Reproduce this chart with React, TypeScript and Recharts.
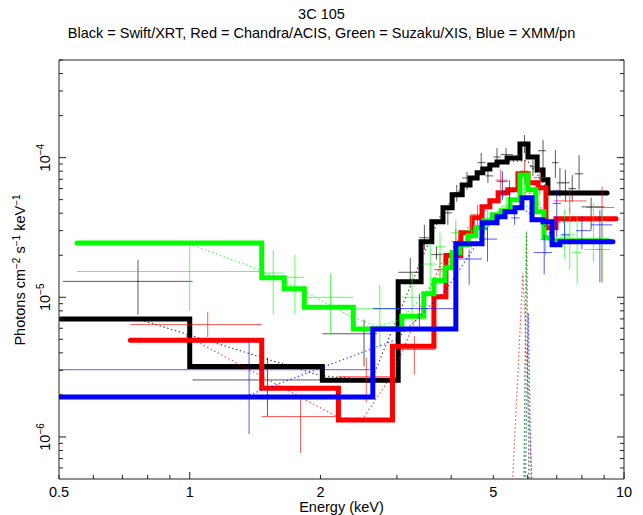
import React from "react";
import { ComposedChart, Line, Scatter, ErrorBar, XAxis, YAxis } from "recharts";

const FONT = '"Liberation Sans", Arial, Helvetica, sans-serif';

const X_TICKS = [0.5, 0.6, 0.7, 0.8, 0.9, 1, 2, 3, 4, 5, 6, 7, 8, 9, 10];
const X_LABELED = [0.5, 1, 2, 5, 10];
const Y_TICKS = [
  6e-7, 7e-7, 8e-7, 9e-7, 1e-6, 2e-6, 3e-6, 4e-6, 5e-6, 6e-6, 7e-6, 8e-6, 9e-6,
  1e-5, 2e-5, 3e-5, 4e-5, 5e-5, 6e-5, 7e-5, 8e-5, 9e-5, 1e-4, 2e-4, 3e-4, 4e-4, 5e-4,
];

// folded model, step edges (keV) and values
const BLACK_MODEL_E = [0.505, 1.0, 2.02, 3.02, 3.41, 3.61, 3.83, 4.02, 4.24, 4.42, 4.59, 4.73, 4.91, 5.1, 5.38, 5.76, 6.01, 6.31, 6.51, 6.68, 9.14];
const BLACK_MODEL_F = [7.0e-6, 3.2e-6, 2.55e-6, 1.29e-5, 2.5e-5, 3.47e-5, 4.38e-5, 5.42e-5, 6.38e-5, 7.16e-5, 7.78e-5, 8.3e-5, 8.87e-5, 9.31e-5, 9.95e-5, 1.25e-4, 1.01e-4, 8.17e-5, 6.93e-5, 5.59e-5, 5.59e-5];
const RED_MODEL_E = [0.73, 1.465, 2.2, 2.93, 3.65, 3.89, 4.21, 4.47, 4.71, 4.91, 5.13, 5.4, 5.7, 6.01, 6.34, 6.61, 6.97, 9.59];
const RED_MODEL_F = [4.93e-6, 2.23e-6, 1.32e-6, 4.47e-6, 1.01e-5, 1.99e-5, 2.9e-5, 3.71e-5, 4.45e-5, 4.91e-5, 5.6e-5, 5.88e-5, 7.65e-5, 6.6e-5, 6.08e-5, 3.15e-5, 3.65e-5, 3.65e-5];
const GREEN_MODEL_E = [0.55, 1.465, 1.651, 1.836, 2.38, 3.08, 3.46, 3.65, 3.87, 4.02, 4.19, 4.37, 4.56, 4.76, 4.97, 5.21, 5.46, 5.76, 6.01, 6.27, 6.54, 6.83, 9.19];
const GREEN_MODEL_F = [2.45e-5, 1.38e-5, 1.15e-5, 8.49e-6, 5.94e-6, 7.31e-6, 1.06e-5, 1.32e-5, 1.63e-5, 2.08e-5, 2.38e-5, 2.76e-5, 3.15e-5, 3.53e-5, 3.9e-5, 4.16e-5, 4.99e-5, 7.52e-5, 5.88e-5, 4.09e-5, 2.67e-5, 2.54e-5, 2.54e-5];
const BLUE_MODEL_E = [0.5, 2.64, 4.1, 4.71, 5.1, 5.32, 5.61, 5.82, 6.14, 6.51, 6.83, 7.12, 9.43];
const BLUE_MODEL_F = [1.93e-6, 5.94e-6, 2.42e-5, 3.42e-5, 3.77e-5, 4.09e-5, 4.37e-5, 5.16e-5, 3.59e-5, 3.47e-5, 2.38e-5, 2.5e-5, 2.5e-5];

// continuum component (dotted)
const BLACK_CONT_E = [0.77, 2.0, 2.62, 3.4, 3.8, 4.2, 4.7, 5.3, 6.0, 6.7, 9.1];
const BLACK_CONT_F = [6.9e-6, 2.75e-6, 2.55e-6, 1.8e-5, 4.0e-5, 5.9e-5, 7.9e-5, 9.4e-5, 9.5e-5, 5.8e-5, 5.6e-5];
const RED_CONT_E = [0.98, 2.2, 2.5, 2.95, 3.4, 3.8, 4.3, 5.0, 5.5, 6.2, 6.7, 9.5];
const RED_CONT_F = [5.3e-6, 1.38e-6, 1.34e-6, 2.9e-6, 8.5e-6, 1.75e-5, 3.0e-5, 4.8e-5, 5.8e-5, 5.5e-5, 3.4e-5, 3.65e-5];
const GREEN_CONT_E = [1.0, 1.465, 1.84, 2.38, 2.7, 3.08, 3.46, 3.9, 4.4, 4.9, 5.4, 6.0, 6.6, 7.0, 9.2];
const GREEN_CONT_F = [2.4e-5, 1.55e-5, 1.1e-5, 7.15e-6, 6.2e-6, 7.0e-6, 1.05e-5, 1.7e-5, 2.8e-5, 3.6e-5, 4.4e-5, 4.5e-5, 3.0e-5, 2.55e-5, 2.55e-5];
const BLUE_CONT_E = [1.37, 3.0, 3.9, 4.4, 4.85, 5.3, 5.8, 6.5, 7.0, 9.4];
const BLUE_CONT_F = [2.0e-6, 5.0e-6, 1.14e-5, 2.0e-5, 3.2e-5, 3.9e-5, 4.4e-5, 3.4e-5, 2.45e-5, 2.5e-5];

// iron line component (dotted)
const BLACK_LINE_E = [5.86, 5.96, 6.07];
const BLACK_LINE_F = [1e-7, 2.9e-5, 1e-7];
const RED_LINE_E = [5.4, 5.85, 6.28];
const RED_LINE_F = [1e-7, 1.5e-5, 1e-7];
const GREEN_LINE_E = [5.85, 5.97, 6.08];
const GREEN_LINE_F = [1e-7, 3.0e-5, 1e-7];
const BLUE_LINE_E = [5.88, 6.02, 6.17];
const BLUE_LINE_F = [1e-7, 7.7e-6, 1e-7];

// data: [E, E low, E high, flux, flux low, flux high]
const BLACK_DATA = [
  [0.76, 0.511, 1.015, 1.3e-5, 7.52e-6, 1.86e-5],
  [1.51, 1.015, 2.0, 2.56e-6, 1.41e-6, 3.69e-6],
  [2.52, 2.02, 2.7, 5.48e-6, 3.2e-6, 6.93e-6],
  [3.22, 3.02, 3.38, 1.51e-5, 1.23e-5, 1.92e-5],
  [3.47, 3.38, 3.55, 2.67e-5, 2.19e-5, 3.3e-5],
  [3.7, 3.6, 3.82, 2.02e-5, 1.86e-5, 2.3e-5],
  [3.93, 3.82, 4.02, 4.02e-5, 3.3e-5, 4.45e-5],
  [4.12, 4.02, 4.24, 5.6e-5, 4.83e-5, 6.38e-5],
  [4.35, 4.24, 4.47, 7.16e-5, 5.88e-5, 7.9e-5],
  [4.69, 4.6, 4.8, 9.2e-5, 8.17e-5, 1.08e-4],
  [4.86, 4.8, 5.0, 7.4e-5, 6.6e-5, 8.44e-5],
  [5.1, 5.0, 5.2, 1.01e-4, 8.87e-5, 1.17e-4],
  [5.35, 5.2, 5.55, 1.05e-4, 9.0e-5, 1.17e-4],
  [5.9, 5.76, 6.1, 1.23e-4, 1.08e-4, 1.45e-4],
  [6.17, 6.07, 6.27, 8.6e-5, 7.4e-5, 9.6e-5],
  [6.51, 6.34, 6.61, 1.12e-4, 8.17e-5, 1.34e-4],
  [6.95, 6.83, 7.06, 9.2e-5, 7.16e-5, 1.13e-4],
  [7.12, 7.0, 7.25, 6.6e-5, 5.25e-5, 8.44e-5],
  [7.33, 7.2, 7.5, 6.6e-5, 4.83e-5, 8.17e-5],
  [7.6, 7.45, 7.75, 6.0e-5, 4.83e-5, 7.5e-5],
  [7.88, 7.7, 8.05, 7.65e-5, 5.88e-5, 1.04e-4],
  [8.4, 7.98, 9.0, 4.44e-5, 3.04e-5, 5.15e-5],
];
const RED_DATA = [
  [1.1, 0.73, 1.465, 6.38e-6, 5.21e-6, 7.87e-6],
  [1.8, 1.465, 2.19, 1.4e-6, 7.7e-7, 2.02e-6],
  [2.55, 2.2, 2.9, 2.7e-6, 1.77e-6, 3.71e-6],
  [3.29, 3.0, 3.67, 4.23e-6, 2.8e-6, 5.28e-6],
  [3.77, 3.65, 3.9, 1.58e-5, 1.23e-5, 2.08e-5],
  [4.1, 4.0, 4.2, 2.5e-5, 2.0e-5, 3.1e-5],
  [4.6, 4.45, 4.75, 3.9e-5, 3.2e-5, 4.6e-5],
  [5.2, 5.06, 5.4, 6.9e-5, 5.9e-5, 8.2e-5],
  [5.9, 5.76, 6.0, 8.0e-5, 6.4e-5, 9.6e-5],
  [6.4, 6.2, 6.65, 7.2e-5, 5.4e-5, 8.4e-5],
  [7.5, 6.9, 8.2, 4.9e-5, 4.0e-5, 5.9e-5],
  [8.9, 8.2, 9.5, 4.4e-5, 1.28e-5, 6.2e-5],
];
const GREEN_DATA = [
  [1.0, 0.55, 1.465, 1.53e-5, 7.99e-6, 2.31e-5],
  [1.557, 1.465, 1.651, 1.49e-5, 7.55e-6, 2.19e-5],
  [1.747, 1.651, 1.836, 1.39e-5, 7.55e-6, 2.02e-5],
  [2.11, 1.85, 2.38, 1.0e-5, 5.42e-6, 1.48e-5],
  [2.74, 2.4, 3.05, 8.26e-6, 4.35e-6, 1.23e-5],
  [3.25, 3.08, 3.4, 1.0e-5, 6.5e-6, 1.5e-5],
  [3.58, 3.44, 3.7, 1.73e-5, 1.08e-5, 2.46e-5],
  [3.77, 3.68, 3.88, 2.3e-5, 1.7e-5, 2.9e-5],
  [4.1, 4.0, 4.2, 2.9e-5, 2.4e-5, 3.6e-5],
  [4.45, 4.3, 4.55, 3.0e-5, 2.2e-5, 4.0e-5],
  [4.85, 4.7, 5.0, 3.5e-5, 2.6e-5, 4.4e-5],
  [5.35, 5.2, 5.5, 4.5e-5, 3.6e-5, 5.4e-5],
  [5.9, 5.8, 6.0, 6.5e-5, 5.4e-5, 7.8e-5],
  [6.6, 6.4, 6.8, 2.6e-5, 2.0e-5, 3.3e-5],
  [7.3, 7.1, 7.5, 2.7e-5, 1.9e-5, 4.3e-5],
  [7.5, 7.2, 7.7, 2.8e-5, 1.58e-5, 4.3e-5],
  [7.8, 7.6, 8.0, 2.1e-5, 1.23e-5, 3.8e-5],
  [8.5, 8.1, 8.9, 2.2e-5, 1.8e-5, 4.7e-5],
  [8.9, 8.6, 9.3, 2.2e-5, 1.28e-5, 4.2e-5],
];
const BLUE_DATA = [
  [1.37, 0.5, 2.6, 3.03e-6, 1.05e-6, 4.99e-6],
  [3.38, 2.64, 4.1, 8.3e-6, 5.73e-6, 1.06e-5],
  [4.4, 4.15, 4.71, 1.88e-5, 1.23e-5, 2.19e-5],
  [4.85, 4.71, 5.1, 2.61e-5, 1.8e-5, 3.2e-5],
  [5.25, 5.1, 5.4, 6.74e-5, 4.99e-5, 8.0e-5],
  [5.45, 5.3, 5.6, 5.7e-5, 4.2e-5, 6.9e-5],
  [5.6, 5.5, 5.75, 3.7e-5, 3.3e-5, 4.4e-5],
  [6.55, 6.2, 6.83, 2.09e-5, 1.46e-5, 2.8e-5],
  [7.0, 6.85, 7.15, 4.7e-5, 2.7e-5, 5.9e-5],
  [7.3, 7.15, 7.5, 2.8e-5, 2.4e-5, 3.6e-5],
  [8.0, 7.75, 8.4, 3.0e-5, 2.2e-5, 3.8e-5],
  [8.8, 8.4, 9.4, 3.3e-5, 1.28e-5, 4.2e-5],
];

const pts = (e: number[], f: number[]) => e.map((x, i) => ({ x, y: f[i] }));
const crosses = (rows: number[][]) =>
  rows.map(([x, xl, xh, y, yl, yh]) => ({ x, y, ex: [x - xl, xh - x], ey: [y - yl, yh - y] }));

const GROUPS = [
  { key: "black", color: "#000000", data: BLACK_DATA, mE: BLACK_MODEL_E, mF: BLACK_MODEL_F, cE: BLACK_CONT_E, cF: BLACK_CONT_F, lE: BLACK_LINE_E, lF: BLACK_LINE_F },
  { key: "red", color: "#ff0000", data: RED_DATA, mE: RED_MODEL_E, mF: RED_MODEL_F, cE: RED_CONT_E, cF: RED_CONT_F, lE: RED_LINE_E, lF: RED_LINE_F },
  { key: "green", color: "#00ff00", data: GREEN_DATA, mE: GREEN_MODEL_E, mF: GREEN_MODEL_F, cE: GREEN_CONT_E, cF: GREEN_CONT_F, lE: GREEN_LINE_E, lF: GREEN_LINE_F },
  { key: "blue", color: "#0000ff", data: BLUE_DATA, mE: BLUE_MODEL_E, mF: BLUE_MODEL_F, cE: BLUE_CONT_E, cF: BLUE_CONT_F, lE: BLUE_LINE_E, lF: BLUE_LINE_F },
];

const AXIS = "#222";
const isDecade = (v: number) => Math.abs(Math.log10(v) - Math.round(Math.log10(v))) < 1e-6;

function BottomTick(props: any) {
  const { x, y, payload } = props;
  const v = payload.value;
  const len = isDecade(v) ? 7 : 4;
  return (
    <g>
      <line x1={x} y1={y} x2={x} y2={y - len} stroke={AXIS} />
      {X_LABELED.includes(v) && (
        <text x={x} y={y + 18} textAnchor="middle" fontSize={14.5} fontFamily={FONT} fill="#000">
          {String(v)}
        </text>
      )}
    </g>
  );
}

function TopTick(props: any) {
  const { x, y, payload } = props;
  const len = isDecade(payload.value) ? 7 : 4;
  return <line x1={x} y1={y} x2={x} y2={y + len} stroke={AXIS} />;
}

function LeftTick(props: any) {
  const { x, y, payload } = props;
  const v = payload.value;
  const major = isDecade(v);
  const lx = x - 9;
  return (
    <g>
      <line x1={x} y1={y} x2={x + (major ? 7 : 4)} y2={y} stroke={AXIS} />
      {major && (
        <text x={lx} y={y} transform={`rotate(-90, ${lx}, ${y})`} textAnchor="middle" fontSize={14.5} fontFamily={FONT} fill="#000">
          10<tspan dy={-6} fontSize={10}>{"\u2212" + Math.abs(Math.round(Math.log10(v)))}</tspan>
        </text>
      )}
    </g>
  );
}

function RightTick(props: any) {
  const { x, y, payload } = props;
  const len = isDecade(payload.value) ? 7 : 4;
  return <line x1={x} y1={y} x2={x - len} y2={y} stroke={AXIS} />;
}

const Empty = () => <g />;

export default function App() {
  const items: React.ReactNode[] = [];
  GROUPS.forEach((g) => {
    items.push(
      <Scatter key={g.key + "-d"} data={crosses(g.data)} shape={Empty} isAnimationActive={false} legendType="none">
        <ErrorBar dataKey="ex" direction="x" width={0} stroke={g.color} strokeWidth={1} strokeOpacity={0.65} isAnimationActive={false} />
        <ErrorBar dataKey="ey" direction="y" width={0} stroke={g.color} strokeWidth={1} strokeOpacity={0.65} isAnimationActive={false} />
      </Scatter>
    );
    items.push(
      <Line key={g.key + "-c"} data={pts(g.cE, g.cF)} dataKey="y" type="linear" stroke={g.color} strokeOpacity={0.7}
        strokeWidth={1.2} strokeDasharray="1.5 2.5" dot={false} activeDot={false} isAnimationActive={false} />
    );
    items.push(
      <Line key={g.key + "-l"} data={pts(g.lE, g.lF)} dataKey="y" type="linear" stroke={g.color} strokeOpacity={0.7}
        strokeWidth={1.2} strokeDasharray="1.5 2.5" dot={false} activeDot={false} isAnimationActive={false} />
    );
    items.push(
      <Line key={g.key + "-m"} data={pts(g.mE, g.mF)} dataKey="y" type="stepAfter" stroke={g.color}
        strokeWidth={5} strokeLinecap="round" dot={false} activeDot={false} isAnimationActive={false} />
    );
  });

  return (
    <div style={{ position: "relative", width: 643, height: 515, background: "#fff" }}>
      <style>{"body{margin:0}"}</style>
      <ComposedChart width={643} height={515} margin={{ top: 59, right: 18, bottom: 35, left: 58 }}>
        <XAxis dataKey="x" type="number" scale="log" domain={[0.5, 10]} allowDataOverflow ticks={X_TICKS}
          interval={0} height={1} tickSize={0} tickMargin={0} tickLine={false} stroke={AXIS} tick={BottomTick} />
        <XAxis xAxisId="top" orientation="top" type="number" scale="log" domain={[0.5, 10]} allowDataOverflow ticks={X_TICKS}
          interval={0} height={1} tickSize={0} tickMargin={0} tickLine={false} stroke={AXIS} tick={TopTick} />
        <YAxis dataKey="y" type="number" scale="log" domain={[5e-7, 5e-4]} allowDataOverflow ticks={Y_TICKS}
          interval={0} width={1} tickSize={0} tickMargin={0} tickLine={false} stroke={AXIS} tick={LeftTick} />
        <YAxis yAxisId="right" orientation="right" type="number" scale="log" domain={[5e-7, 5e-4]} allowDataOverflow ticks={Y_TICKS}
          interval={0} width={1} tickSize={0} tickMargin={0} tickLine={false} stroke={AXIS} tick={RightTick} />
        {items}
      </ComposedChart>
      <svg width={643} height={515} style={{ position: "absolute", left: 0, top: 0, pointerEvents: "none" }} fontFamily={FONT} fontSize={14.5}>
        <text x={321.5} y={19} textAnchor="middle">3C 105</text>
        <text x={321.5} y={38} textAnchor="middle">
          Black = Swift/XRT, Red = Chandra/ACIS, Green = Suzaku/XIS, Blue = XMM/pn
        </text>
        <text x={341.5} y={512} textAnchor="middle">Energy (keV)</text>
        <text x={25} y={270} textAnchor="middle" transform="rotate(-90, 25, 270)">
          Photons cm<tspan dy={-5} fontSize={10}>{"\u22122"}</tspan>
          <tspan dy={5}> s</tspan><tspan dy={-5} fontSize={10}>{"\u22121"}</tspan>
          <tspan dy={5}> keV</tspan><tspan dy={-5} fontSize={10}>{"\u22121"}</tspan>
        </text>
      </svg>
    </div>
  );
}
